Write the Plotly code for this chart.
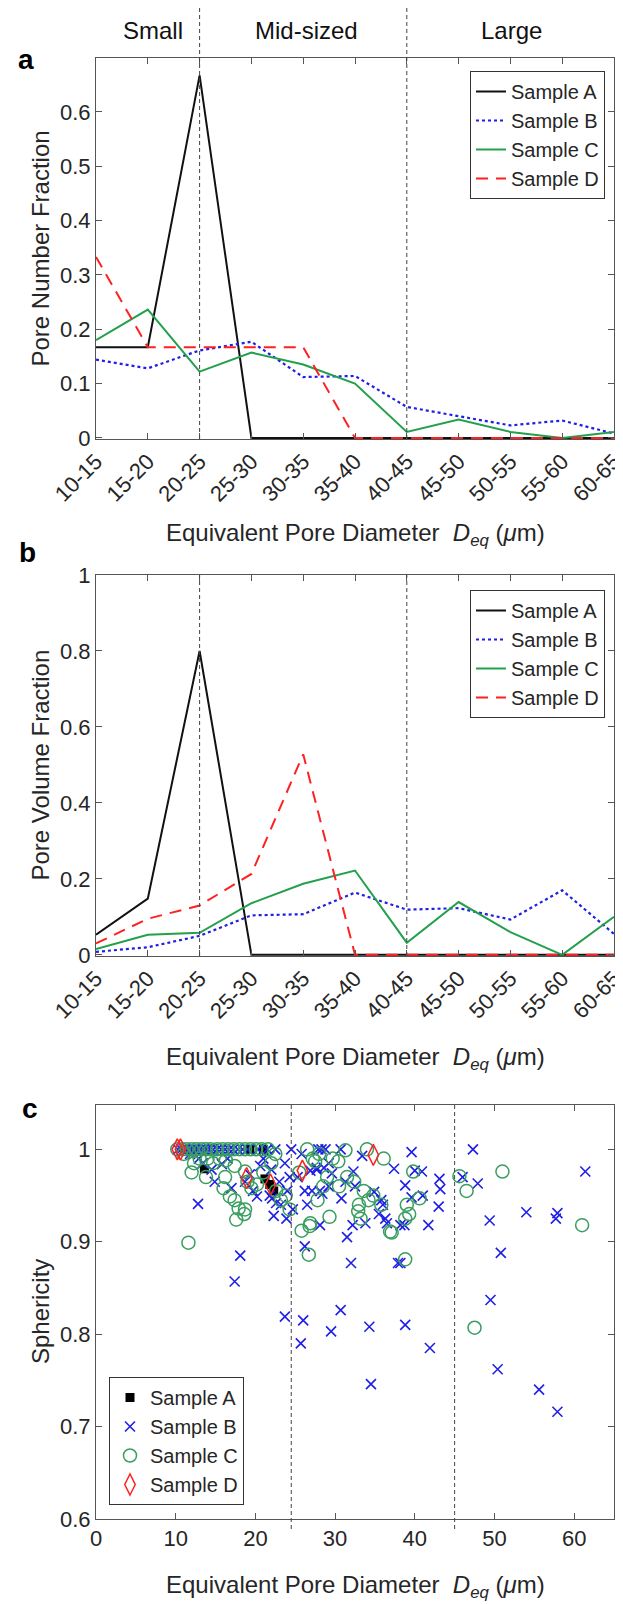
import plotly.graph_objects as go

W, H = 623, 1604

categories = ["10-15", "15-20", "20-25", "25-30", "30-35", "35-40",
              "40-45", "45-50", "50-55", "55-60", "60-65"]
cat_pos = list(range(1, len(categories) + 1))

# Panel a: pore number fraction
num_A = [0.167, 0.167, 0.667, 0, 0, 0, 0, 0, 0, 0, 0]
num_B = [0.144, 0.128, 0.161, 0.177, 0.112, 0.114, 0.057, 0.040, 0.023, 0.032, 0.008]
num_C = [0.180, 0.236, 0.122, 0.157, 0.135, 0.100, 0.011, 0.034, 0.011, 0.000, 0.011]
num_D = [0.333, 0.167, 0.167, 0.167, 0.167, 0, 0, 0, 0, 0, 0]

# Panel b: pore volume fraction
vol_A = [0.053, 0.148, 0.800, 0, 0, 0, 0, 0, 0, 0, 0]
vol_B = [0.008, 0.020, 0.050, 0.104, 0.107, 0.164, 0.119, 0.123, 0.093, 0.170, 0.055]
vol_C = [0.015, 0.053, 0.058, 0.136, 0.187, 0.222, 0.032, 0.139, 0.060, 0.000, 0.100]
vol_D = [0.030, 0.095, 0.130, 0.213, 0.528, 0, 0, 0, 0, 0, 0]

# Panel c: sphericity vs diameter
sA_x = [13.6, 19.3, 21.0, 21.2, 21.8, 22.3]
sA_y = [0.979, 1.0, 1.0, 0.968, 0.962, 0.955]

sB_x = [10.3, 10.7, 11.1, 11.5, 11.9, 12.3, 12.7, 13.1, 13.5, 13.9, 14.3, 14.7, 11.8, 12.9, 14.5, 13.4, 12.8, 14.9,
        15.2, 15.7, 16.2, 16.7, 17.2, 17.8, 18.4, 19.0, 15.8, 17.0, 17.4, 18.1, 19.3, 16.5, 18.7, 19.7,
        20.3, 21.5, 22.5, 24.5, 20.6, 22.0, 23.7, 20.2, 22.1, 22.6, 22.3, 23.9, 23.7, 21.0, 23.0, 24.0, 24.3, 21.8, 23.2, 24.7,
        25.8, 26.9, 26.2, 28.1, 27.7, 26.2, 28.1, 28.3, 27.9, 28.8, 29.2, 28.6, 27.7, 29.6, 27.1, 28.4, 29.2, 26.0, 25.7, 29.5, 25.3, 26.5,
        30.7, 30.8, 31.5, 32.0, 32.2, 33.8, 33.4, 32.3, 34.9, 30.7, 34.3, 34.5, 31.3, 32.5,
        35.5, 36.0, 36.3, 35.8, 37.4, 38.2, 38.8, 39.6, 39.6, 38.7, 38.2, 37.9, 38.8, 36.5,
        40.0, 40.9, 41.0, 41.7, 43.1, 43.2, 43.0, 41.9,
        47.3, 46.0, 47.9, 49.4, 49.5,
        50.8, 50.4, 54.0,
        57.9, 57.7, 55.6, 57.9,
        61.4]
sB_y = [1.0, 1.0, 1.0, 1.0, 1.0, 1.0, 1.0, 1.0, 1.0, 1.0, 1.0, 1.0, 0.995, 0.990, 0.978, 0.985, 0.941, 0.965,
        1.0, 1.0, 1.0, 1.0, 1.0, 1.0, 1.0, 1.0, 0.984, 0.958, 0.857, 0.885, 0.973, 0.990, 0.965, 0.955,
        1.0, 1.0, 1.0, 1.0, 0.982, 0.978, 0.985, 0.949, 0.947, 0.942, 0.928, 0.925, 0.819, 0.990, 0.965, 0.955, 0.970, 0.950, 0.940, 0.935,
        0.995, 0.977, 0.955, 0.955, 0.978, 0.895, 0.918, 1.0, 1.0, 1.0, 0.985, 0.980, 0.980, 0.974, 0.955, 0.952, 0.960, 0.815, 0.790, 0.803, 0.970, 0.940,
        1.0, 0.947, 0.905, 0.877, 0.918, 0.920, 0.993, 0.976, 0.954, 0.826, 0.808, 0.746, 0.965, 0.960,
        0.930, 0.940, 0.925, 0.945, 0.979, 0.918, 0.961, 0.997, 0.948, 0.918, 0.877, 0.877, 0.810, 0.920,
        0.977, 0.976, 0.950, 0.918, 0.968, 0.957, 0.938, 0.785,
        1.0, 0.970, 0.963, 0.923, 0.837,
        0.888, 0.762, 0.932,
        0.931, 0.925, 0.740, 0.716,
        0.976]

sC_x = [10.2, 10.8, 11.4, 12.0, 12.6, 13.2, 13.8, 14.4, 11.0, 12.3, 13.0, 14.0, 11.6, 14.7, 12.0, 13.8,
        15.2, 15.9, 16.6, 17.3, 18.0, 18.7, 19.4, 15.5, 16.3, 17.4, 18.7, 16.0, 16.8, 17.4, 17.9, 18.7, 17.6, 18.6, 19.5, 16.2, 19.0,
        20.1, 20.8, 21.6, 22.5, 20.2, 21.0, 22.6, 23.2, 23.8, 24.3, 22.0,
        25.8, 26.8, 29.3, 26.7, 26.9, 26.5, 27.2, 28.0, 29.7, 27.5, 28.5, 29.0, 25.5, 27.8,
        31.3, 30.4, 32.9, 34.0, 33.6, 34.2, 33.0, 34.8, 31.5, 32.4, 30.5, 33.2,
        36.1, 36.9, 38.8, 39.3, 39.0, 38.8, 39.8, 37.1, 35.8,
        40.6,
        45.6, 46.5, 47.5,
        51.0,
        61.0]
sC_y = [1.0, 1.0, 1.0, 1.0, 1.0, 1.0, 1.0, 1.0, 0.995, 0.985, 0.990, 0.990, 0.899, 0.985, 0.975, 0.970,
        1.0, 1.0, 1.0, 1.0, 1.0, 1.0, 1.0, 0.990, 0.988, 0.982, 0.976, 0.958, 0.949, 0.945, 0.936, 0.935, 0.924, 0.930, 0.958, 0.970, 0.965,
        1.0, 1.0, 1.0, 0.995, 0.962, 0.975, 0.955, 0.945, 0.950, 0.935, 0.985,
        0.912, 0.917, 0.927, 0.886, 0.920, 1.0, 0.990, 0.995, 0.990, 0.987, 0.960, 0.970, 0.975, 0.945,
        0.999, 0.987, 0.933, 1.0, 0.955, 0.945, 0.940, 0.950, 0.970, 0.965, 0.960, 0.925,
        0.990, 0.911, 0.925, 0.930, 0.940, 0.881, 0.976, 0.910, 0.940,
        0.947,
        0.971, 0.955, 0.807,
        0.976,
        0.918]

sD_x = [10.2, 10.6, 18.9, 21.9, 25.9, 34.8]
sD_y = [1.0, 1.0, 0.969, 0.962, 0.977, 0.994]

names = ["Sample A", "Sample B", "Sample C", "Sample D"]
top_labels = ["Small", "Mid-sized", "Large"]

BLACK = "#111111"
BLUE = "#1f1fe6"
GREEN = "#22a04b"
GREEN_M = "#3a9e60"
RED = "#ff2121"
TXT = "#262626"
AX = "#555555"
FONT = "Arial, Liberation Sans, sans-serif"


def px_x(p):
    return p / W


def px_y(p):
    return 1 - p / H


XL, XR = 88, 606
A_T, A_B = 50, 431
B_T, B_B = 567, 948
C_T, C_B = 1097, 1511

fig = go.Figure()

line_styles = [
    dict(color=BLACK, width=2, dash="solid"),
    dict(color=BLUE, width=2.2, dash="dot"),
    dict(color=GREEN, width=2, dash="solid"),
    dict(color=RED, width=2, dash="12px,8px"),
]

for series, (xa, ya, leg) in [((num_A, num_B, num_C, num_D), ("x", "y", "legend")),
                              ((vol_A, vol_B, vol_C, vol_D), ("x2", "y2", "legend2"))]:
    for nm, vals, st in zip(names, series, line_styles):
        fig.add_trace(go.Scatter(x=cat_pos, y=vals, mode="lines", name=nm, line=st,
                                 xaxis=xa, yaxis=ya, legend=leg))

fig.add_trace(go.Scatter(x=sA_x, y=sA_y, mode="markers", name="Sample A", xaxis="x3", yaxis="y3",
                         legend="legend3", marker=dict(symbol="square", size=9, color="black")))
fig.add_trace(go.Scatter(x=sB_x, y=sB_y, mode="markers", name="Sample B", xaxis="x3", yaxis="y3",
                         legend="legend3",
                         marker=dict(symbol="x-thin", size=10, color=BLUE, line=dict(width=1.6, color=BLUE))))
fig.add_trace(go.Scatter(x=sC_x, y=sC_y, mode="markers", name="Sample C", xaxis="x3", yaxis="y3",
                         legend="legend3",
                         marker=dict(symbol="circle-open", size=13, color=GREEN_M, line=dict(width=1.5))))
fig.add_trace(go.Scatter(x=sD_x, y=sD_y, mode="markers", name="Sample D", xaxis="x3", yaxis="y3",
                         legend="legend3",
                         marker=dict(symbol="diamond-tall-open", size=15, color=RED, line=dict(width=1.5))))

axis_common = dict(showline=True, linecolor=AX, linewidth=1, mirror="ticks", ticks="inside",
                   ticklen=6, tickcolor=AX, showgrid=False, zeroline=False,
                   tickfont=dict(size=22, color=TXT, family=FONT), automargin=False)

xdom = [px_x(XL), px_x(XR)]
cat_axis = dict(axis_common, domain=xdom, range=[1, 11], tickvals=cat_pos, ticktext=categories,
                tickangle=-45)

fig.update_layout(
    width=W, height=H, margin=dict(l=0, r=0, t=0, b=0),
    paper_bgcolor="white", plot_bgcolor="white",
    font=dict(family=FONT, color=TXT),
    xaxis=dict(cat_axis, anchor="y"),
    yaxis=dict(axis_common, domain=[px_y(A_B), px_y(A_T)], range=[-0.002, 0.699], anchor="x",
               tickvals=[0, 0.1, 0.2, 0.3, 0.4, 0.5, 0.6],
               ticktext=["0", "0.1", "0.2", "0.3", "0.4", "0.5", "0.6"]),
    xaxis2=dict(cat_axis, anchor="y2"),
    yaxis2=dict(axis_common, domain=[px_y(B_B), px_y(B_T)], range=[-0.003, 1.0], anchor="x2",
                tickvals=[0, 0.2, 0.4, 0.6, 0.8, 1.0],
                ticktext=["0", "0.2", "0.4", "0.6", "0.8", "1"]),
    xaxis3=dict(axis_common, domain=xdom, range=[0, 65], anchor="y3",
                tickvals=[0, 10, 20, 30, 40, 50, 60]),
    yaxis3=dict(axis_common, domain=[px_y(C_B), px_y(C_T)], range=[0.6, 1.048], anchor="x3",
                tickvals=[0.6, 0.7, 0.8, 0.9, 1.0],
                ticktext=["0.6", "0.7", "0.8", "0.9", "1"]),
    showlegend=True,
)

leg_common = dict(bgcolor="white", bordercolor="#333333", borderwidth=1,
                  font=dict(size=20, color=TXT, family=FONT), tracegroupgap=0)
fig.update_layout(
    legend=dict(leg_common, x=px_x(597), y=px_y(63), xanchor="right", yanchor="top"),
    legend2=dict(leg_common, x=px_x(597), y=px_y(582), xanchor="right", yanchor="top"),
    legend3=dict(leg_common, x=px_x(101), y=px_y(1497), xanchor="left", yanchor="bottom"),
)

# dashed separators
dash_st = dict(color="#444444", width=1, dash="4px,3px")
shapes = []
for xv in [3, 7]:
    shapes.append(dict(type="line", xref="x", yref="paper", x0=xv, x1=xv, y0=px_y(A_B), y1=1.0,
                       line=dash_st, layer="above"))
    shapes.append(dict(type="line", xref="x2", yref="paper", x0=xv, x1=xv, y0=px_y(B_B), y1=px_y(B_T),
                       line=dash_st, layer="above"))
for xv in [24.5, 45]:
    shapes.append(dict(type="line", xref="x3", yref="paper", x0=xv, x1=xv, y0=px_y(C_B + 10), y1=px_y(C_T),
                       line=dash_st, layer="above"))
fig.update_layout(shapes=shapes)

ann = []
# region labels
for txt, cx in zip(top_labels, [145, 298, 503]):
    ann.append(dict(text=txt, x=px_x(cx), y=px_y(23), xref="paper", yref="paper", showarrow=False,
                    xanchor="center", yanchor="middle", font=dict(size=24, color="#111111")))
# panel letters
for txt, cx, cy in [("a", 18, 52), ("b", 20, 545), ("c", 22, 1100)]:
    ann.append(dict(text="<b>%s</b>" % txt, x=px_x(cx), y=px_y(cy), xref="paper", yref="paper",
                    showarrow=False, xanchor="center", yanchor="middle", font=dict(size=28, color="black")))
# axis titles
xlab = "Equivalent Pore Diameter  <i>D</i><sub><i>eq</i></sub> (<i>\u03bc</i>m)"
for cy in [527, 1050, 1578]:
    ann.append(dict(text=xlab, x=px_x((XL + XR) / 2), y=px_y(cy), xref="paper", yref="paper",
                    showarrow=False, xanchor="center", yanchor="middle", font=dict(size=24, color=TXT)))
for txt, cy in [("Pore Number Fraction", (A_T + A_B) / 2), ("Pore Volume Fraction", (B_T + B_B) / 2),
                ("Sphericity", (C_T + C_B) / 2)]:
    ann.append(dict(text=txt, x=px_x(32), y=px_y(cy), xref="paper", yref="paper", showarrow=False,
                    textangle=-90, xanchor="center", yanchor="middle", font=dict(size=24, color=TXT)))
fig.update_layout(annotations=ann)

fig.write_html("out.html")
